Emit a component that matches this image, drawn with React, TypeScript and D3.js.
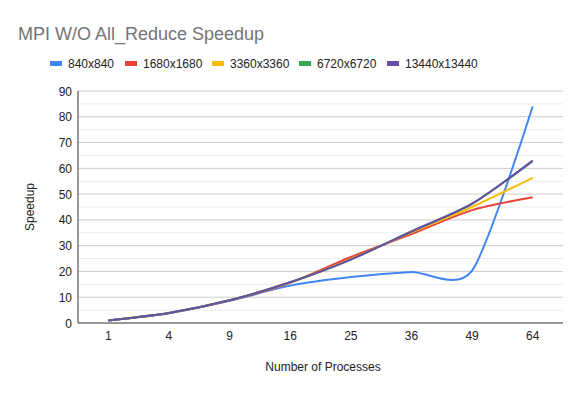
import React from "react";
import * as d3 from "d3";

const procs = ["1", "4", "9", "16", "25", "36", "49", "64"];
const seriesNames = ["840x840", "1680x1680", "3360x3360", "6720x6720", "13440x13440"];
const colors = ["#4285f4", "#ea4335", "#fbbc04", "#34a853", "#674ea7"];

const s840 = [1, 3.8, 8.6, 14.5, 17.8, 19.8, 20.3, 84];
const s1680 = [1, 3.9, 8.7, 15.6, 25.6, 34.5, 43.8, 48.8];
const s3360 = [1, 3.9, 8.8, 15.7, 24.8, 35.2, 45, 56.3];
const s6720 = [1, 3.9, 8.8, 15.8, 24.6, 35.5, 46.2, 62.8];
const s13440 = [1, 3.9, 8.8, 15.8, 24.6, 35.5, 46.3, 63];
const allSeries = [s840, s1680, s3360, s6720, s13440];

const yTicks = [0, 10, 20, 30, 40, 50, 60, 70, 80, 90];

export default function App() {
  const width = 588,
    height = 395;
  const left = 78,
    right = 563,
    top = 91,
    bottom = 323;

  const x = d3.scaleBand().domain(procs).range([left, right]);
  const y = d3.scaleLinear().domain([0, 90]).range([bottom, top]);
  const minor = d3.range(5, 90, 10);

  const line = d3
    .line<number>()
    .x((_, i) => (x(procs[i]) as number) + x.bandwidth() / 2)
    .y(d => y(d))
    .curve(d3.curveCardinal.tension(0.25));

  const font = "Arial, 'Liberation Sans', sans-serif";
  const legendX = [50, 125, 212, 299, 387];

  return (
    <svg width={width} height={height} style={{ position: "absolute", left: 0, top: 0, fontFamily: font }}>
      <rect width={width} height={height} fill="#fff" />
      <text x={18} y={40} fontSize={18} fill="#757575">
        MPI W/O All_Reduce Speedup
      </text>
      {seriesNames.map((n, i) => (
        <g key={n}>
          <rect x={legendX[i]} y={61} width={12} height={5} fill={colors[i]} />
          <text x={legendX[i] + 18} y={67.5} fontSize={12} fill="#222">
            {n}
          </text>
        </g>
      ))}
      {minor.map(v => (
        <line key={"m" + v} x1={left} x2={right} y1={y(v)} y2={y(v)} stroke="#ebebeb" />
      ))}
      {yTicks.map(v => (
        <g key={v}>
          {v > 0 && <line x1={left} x2={right} y1={y(v)} y2={y(v)} stroke="#cccccc" />}
          <text x={72} y={y(v) + 4.5} fontSize={12} textAnchor="end" fill="#222">
            {v}
          </text>
        </g>
      ))}
      <line x1={left} x2={left} y1={top} y2={bottom} stroke="#333" />
      <line x1={left} x2={right} y1={bottom} y2={bottom} stroke="#333" />
      {procs.map(p => (
        <text
          key={p}
          x={(x(p) as number) + x.bandwidth() / 2}
          y={bottom + 17}
          fontSize={12}
          textAnchor="middle"
          fill="#222"
        >
          {p}
        </text>
      ))}
      {allSeries.map((s, i) => (
        <path key={i} d={line(s) || ""} fill="none" stroke={colors[i]} strokeWidth={2} />
      ))}
      <text x={323} y={371} fontSize={12} textAnchor="middle" fill="#222">
        Number of Processes
      </text>
      <text transform={`translate(34, ${(top + bottom) / 2}) rotate(-90)`} fontSize={12} textAnchor="middle" fill="#222">
        Speedup
      </text>
    </svg>
  );
}
